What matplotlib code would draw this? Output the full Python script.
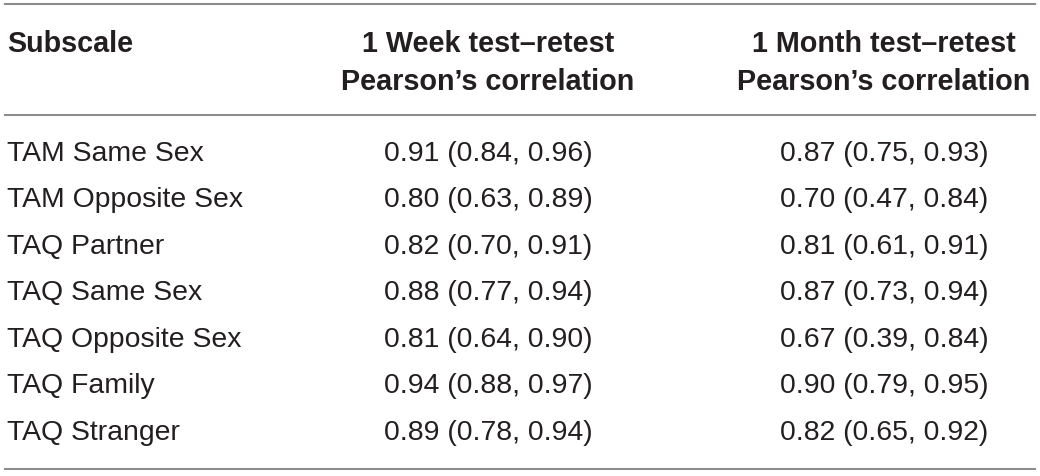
import matplotlib.pyplot as plt

# Data
subscales = ['TAM Same Sex', 'TAM Opposite Sex', 'TAQ Partner', 'TAQ Same Sex',
             'TAQ Opposite Sex', 'TAQ Family', 'TAQ Stranger']
week_r = [0.91, 0.80, 0.82, 0.88, 0.81, 0.94, 0.89]
week_lo = [0.84, 0.63, 0.70, 0.77, 0.64, 0.88, 0.78]
week_hi = [0.96, 0.89, 0.91, 0.94, 0.90, 0.97, 0.94]
month_r = [0.87, 0.70, 0.81, 0.87, 0.67, 0.90, 0.82]
month_lo = [0.75, 0.47, 0.61, 0.73, 0.39, 0.79, 0.65]
month_hi = [0.93, 0.84, 0.91, 0.94, 0.84, 0.95, 0.92]
headers = ['Subscale', '1 Week test\u2013retest\nPearson\u2019s correlation',
           '1 Month test\u2013retest\nPearson\u2019s correlation']

plt.rcParams['font.family'] = ['Liberation Sans', 'DejaVu Sans']
txt = '#231f20'
line_col = '#8c8c8c'

fig = plt.figure(figsize=(10.4, 4.77), dpi=100)
ax = fig.add_axes([0, 0, 1, 1])
ax.set_xlim(0, 1040)
ax.set_ylim(477, 0)
ax.axis('off')

# rules
for y in [5, 116, 470]:
    ax.plot([5, 1035], [y, y], color=line_col, lw=1.5)

fs = 20.4
col2, col3 = 488, 884
ax.text(7, 44, headers[0], fontsize=fs + 0.3, fontweight='bold', color=txt, va='center')
ax.text(col2, 63, headers[1], fontsize=fs + 0.3, fontweight='bold', color=txt,
        va='center', ha='center', linespacing=1.45)
ax.text(col3, 63, headers[2], fontsize=fs + 0.3, fontweight='bold', color=txt,
        va='center', ha='center', linespacing=1.45)

row_y0 = 154
row_step = 46.5
for i, name in enumerate(subscales):
    y = row_y0 + i * row_step
    ax.text(7, y, name, fontsize=fs, color=txt, va='center')
    ax.text(col2, y, f'{week_r[i]:.2f} ({week_lo[i]:.2f}, {week_hi[i]:.2f})',
            fontsize=fs, color=txt, va='center', ha='center')
    ax.text(col3, y, f'{month_r[i]:.2f} ({month_lo[i]:.2f}, {month_hi[i]:.2f})',
            fontsize=fs, color=txt, va='center', ha='center')

fig.savefig('out.png', dpi=100)
